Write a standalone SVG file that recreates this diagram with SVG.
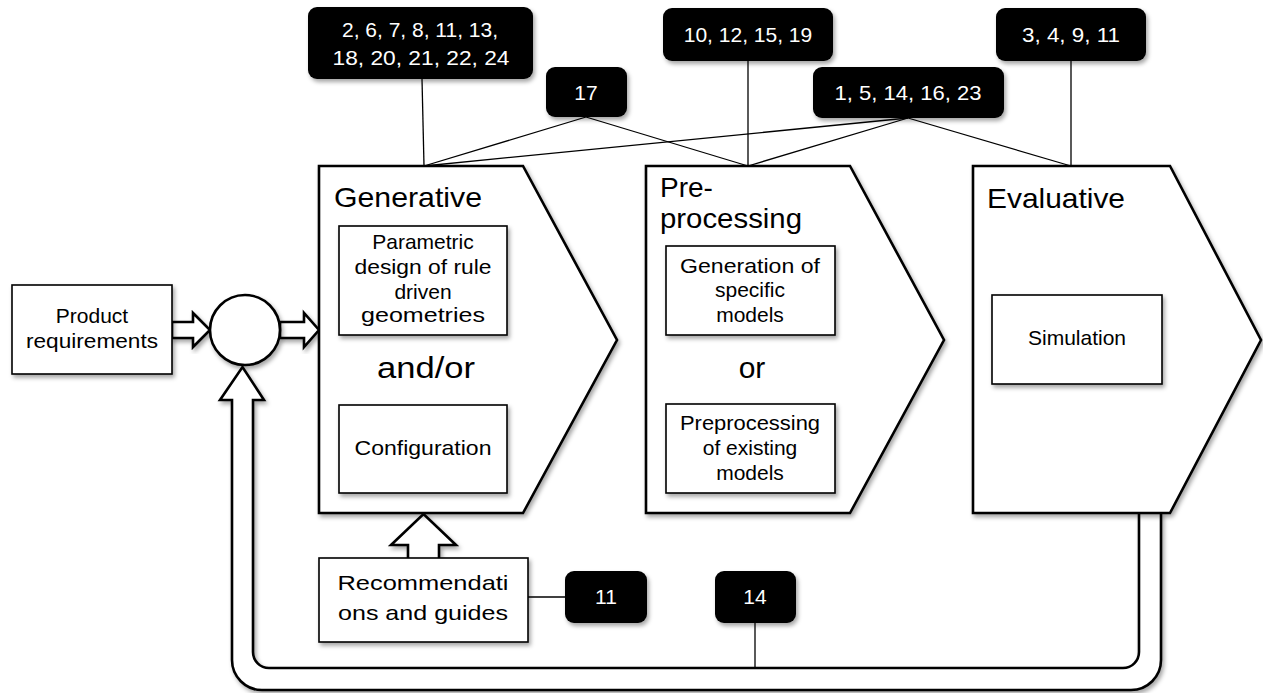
<svg xmlns="http://www.w3.org/2000/svg" width="1263" height="693" viewBox="0 0 1263 693">
  <defs>
    <filter id="shadow" x="-10%" y="-10%" width="130%" height="130%">
      <feDropShadow dx="2" dy="3" stdDeviation="2" flood-color="#000" flood-opacity="0.35"/>
    </filter>
  </defs>
  <style>
    .stage { fill: #fff; stroke: #000; stroke-width: 2.6; stroke-linejoin: miter; }
    .box { fill: #fff; stroke: #000; stroke-width: 1.6; }
    .hollow { fill: #fff; stroke: #000; stroke-width: 2.6; stroke-linejoin: miter; }
    .tag { fill: #000; }
    .link { fill: none; stroke: #000; stroke-width: 1.3; }
    text { font-family: "Liberation Sans", Arial, sans-serif; fill: #000; }
    .title { font-size: 28px; }
    .label { font-size: 21px; text-anchor: middle; }
    .join { font-size: 30px; text-anchor: middle; }
    .num { font-size: 21px; text-anchor: middle; fill: #fff; }
  </style>

  <!-- connectors between reference tags and stages -->
  <g id="connectors">
    <line class="link" x1="422" y1="79" x2="424" y2="166"/>
    <line class="link" x1="586" y1="117" x2="424" y2="166"/>
    <line class="link" x1="586" y1="117" x2="748" y2="166"/>
    <line class="link" x1="748" y1="61" x2="748" y2="166"/>
    <line class="link" x1="908" y1="118" x2="424" y2="166"/>
    <line class="link" x1="908" y1="118" x2="748" y2="166"/>
    <line class="link" x1="908" y1="118" x2="1071" y2="166"/>
    <line class="link" x1="1071" y1="61" x2="1071" y2="166"/>
    <line class="link" x1="528" y1="597" x2="565" y2="597"/>
    <line class="link" x1="755" y1="623" x2="755" y2="668"/>
  </g>

  <!-- feedback loop: from evaluation back to the summing point -->
  <g id="feedback">
    <path class="hollow" filter="url(#shadow)" d="M 1139 512 V 652 A 16 16 0 0 1 1123 668 H 269 A 16 16 0 0 1 253 652 V 400 H 264 L 242.5 367 L 220 400 H 232 V 660 A 30 30 0 0 0 262 690 H 1131 A 30 30 0 0 0 1161 660 V 512"/>
  </g>

  <!-- block arrows -->
  <g id="arrow-in">
    <path class="hollow" filter="url(#shadow)" d="M 172 322 H 193 V 313 L 210 330 L 193 347 V 338 H 172 Z"/>
  </g>
  <g id="arrow-out">
    <path class="hollow" filter="url(#shadow)" d="M 280 322 H 304 V 313 L 319 330 L 304 347 V 338 H 280 Z"/>
  </g>
  <g id="arrow-up">
    <path class="hollow" filter="url(#shadow)" d="M 408 560 V 545 H 391 L 423.5 514 L 456 545 H 439 V 560 Z"/>
  </g>

  <!-- product requirements -->
  <g id="product-requirements">
    <rect class="box" filter="url(#shadow)" x="12" y="285" width="160" height="89" stroke-width="2.4"/>
    <text class="label" x="92" y="323">Product</text>
    <text class="label" x="92" y="348" textLength="132" lengthAdjust="spacingAndGlyphs">requirements</text>
  </g>

  <!-- summing point -->
  <g id="sum">
    <circle class="hollow" filter="url(#shadow)" cx="245" cy="330" r="35"/>
  </g>

  <!-- stage: generative -->
  <g id="generative">
    <path class="stage" filter="url(#shadow)" d="M 319 166 H 523 L 617 340 L 523 513 H 319 Z"/>
    <text class="title" x="334" y="207" textLength="148" lengthAdjust="spacingAndGlyphs">Generative</text>
    <rect class="box" filter="url(#shadow)" x="339" y="226" width="168" height="109"/>
    <text class="label" x="423" y="249">Parametric</text>
    <text class="label" x="423" y="274" textLength="137" lengthAdjust="spacingAndGlyphs">design of rule</text>
    <text class="label" x="423" y="299">driven</text>
    <text class="label" x="423" y="322" textLength="124" lengthAdjust="spacingAndGlyphs">geometries</text>
    <text class="join" x="426" y="378" textLength="98" lengthAdjust="spacingAndGlyphs">and/or</text>
    <rect class="box" filter="url(#shadow)" x="339" y="405" width="168" height="88"/>
    <text class="label" x="423" y="455" textLength="137" lengthAdjust="spacingAndGlyphs">Configuration</text>
  </g>

  <!-- stage: pre-processing -->
  <g id="pre-processing">
    <path class="stage" filter="url(#shadow)" d="M 646 166 H 850 L 944 340 L 850 513 H 646 Z"/>
    <text class="title" x="660" y="197">Pre-</text>
    <text class="title" x="660" y="228" textLength="142" lengthAdjust="spacingAndGlyphs">processing</text>
    <rect class="box" filter="url(#shadow)" x="666" y="246" width="169" height="89"/>
    <text class="label" x="750" y="273" textLength="140" lengthAdjust="spacingAndGlyphs">Generation of</text>
    <text class="label" x="750" y="297">specific</text>
    <text class="label" x="750" y="322">models</text>
    <text class="join" x="752" y="378">or</text>
    <rect class="box" filter="url(#shadow)" x="666" y="404" width="169" height="89"/>
    <text class="label" x="750" y="430" textLength="140" lengthAdjust="spacingAndGlyphs">Preprocessing</text>
    <text class="label" x="750" y="455">of existing</text>
    <text class="label" x="750" y="480">models</text>
  </g>

  <!-- stage: evaluative -->
  <g id="evaluative">
    <path class="stage" filter="url(#shadow)" d="M 973 166 H 1170 L 1261 340 L 1170 513 H 973 Z"/>
    <text class="title" x="987" y="208" textLength="138" lengthAdjust="spacingAndGlyphs">Evaluative</text>
    <rect class="box" filter="url(#shadow)" x="992" y="295" width="170" height="89"/>
    <text class="label" x="1077" y="345">Simulation</text>
  </g>

  <!-- recommendations -->
  <g id="recommendations">
    <rect class="box" filter="url(#shadow)" x="319" y="558" width="209" height="84" stroke-width="2.4"/>
    <text class="label" x="423" y="590" font-size="23" textLength="171" lengthAdjust="spacingAndGlyphs">Recommendati</text>
    <text class="label" x="423" y="620" font-size="23" textLength="170" lengthAdjust="spacingAndGlyphs">ons and guides</text>
  </g>

  <!-- reference tags -->
  <g id="tag-generative">
    <rect class="tag" filter="url(#shadow)" x="308" y="7" width="225" height="72" rx="9"/>
    <text class="num" x="420" y="37">2, 6, 7, 8, 11, 13,</text>
    <text class="num" x="421" y="65" textLength="177" lengthAdjust="spacingAndGlyphs">18, 20, 21, 22, 24</text>
  </g>
  <g id="tag-17">
    <rect class="tag" filter="url(#shadow)" x="546" y="67" width="81" height="50" rx="9"/>
    <text class="num" x="586" y="100">17</text>
  </g>
  <g id="tag-preprocessing">
    <rect class="tag" filter="url(#shadow)" x="663" y="8" width="170" height="53" rx="9"/>
    <text class="num" x="748" y="42">10, 12, 15, 19</text>
  </g>
  <g id="tag-shared">
    <rect class="tag" filter="url(#shadow)" x="813" y="67" width="191" height="51" rx="9"/>
    <text class="num" x="908" y="100" textLength="147" lengthAdjust="spacingAndGlyphs">1, 5, 14, 16, 23</text>
  </g>
  <g id="tag-evaluative">
    <rect class="tag" filter="url(#shadow)" x="996" y="8" width="150" height="53" rx="9"/>
    <text class="num" x="1071" y="42" textLength="98" lengthAdjust="spacingAndGlyphs">3, 4, 9, 11</text>
  </g>
  <g id="tag-11">
    <rect class="tag" filter="url(#shadow)" x="565" y="571" width="82" height="52" rx="9"/>
    <text class="num" x="606" y="604">11</text>
  </g>
  <g id="tag-14">
    <rect class="tag" filter="url(#shadow)" x="715" y="571" width="81" height="52" rx="9"/>
    <text class="num" x="755" y="604">14</text>
  </g>
</svg>
